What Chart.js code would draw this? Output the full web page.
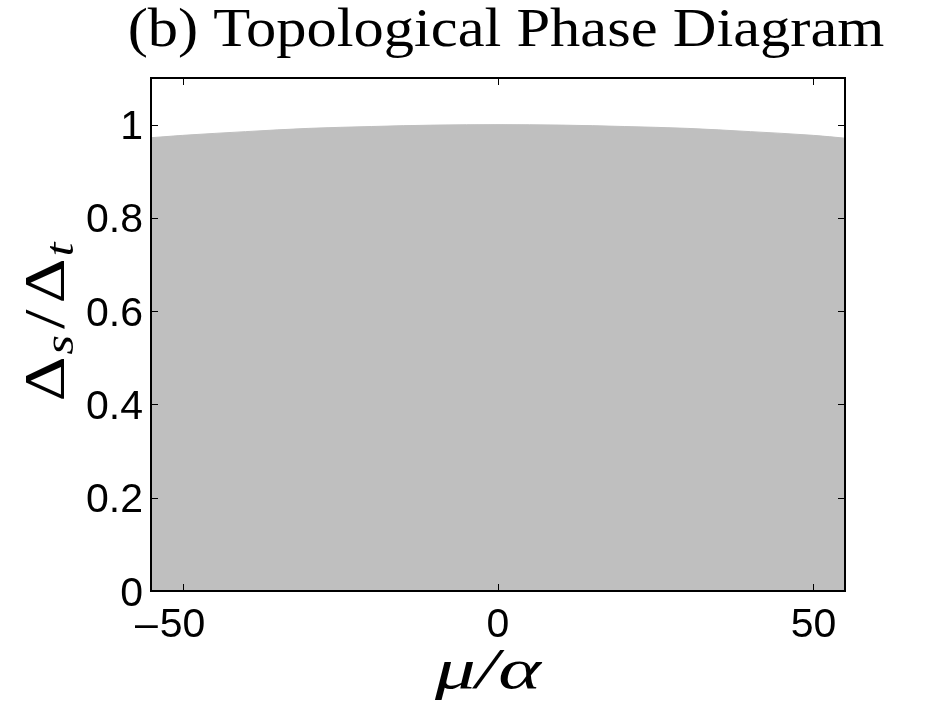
<!DOCTYPE html>
<html lang="en">
<head>
<meta charset="UTF-8">
<title>Topological Phase Diagram</title>
<script src="https://cdn.jsdelivr.net/npm/chart.js"></script>
<style>
  html, body { margin: 0; padding: 0; background: #fff; }
  #wrap { width: 934px; height: 703px; }
</style>
</head>
<body>
<div id="wrap"><canvas id="phaseChart" width="934" height="703"></canvas></div>
<script>
// data
const muValues = [-55, -50, -40, -30, -20, -10, 0, 10, 20, 30, 40, 50, 55];
const ratioValues = [0.972, 0.977, 0.985, 0.992, 0.996, 0.999, 1.0, 0.999, 0.996, 0.992, 0.985, 0.977, 0.971];
const xTicks = [-50, 0, 50];
const yTicks = [0, 0.2, 0.4, 0.6, 0.8, 1];

const titleText = '(b) Topological Phase Diagram';
const tickFont = '41px "Liberation Sans"';

// inward ticks on all four sides, the box, tick labels and titles
const framePlugin = {
  id: 'frame',
  afterDatasetsDraw(chart) {
    const ctx = chart.ctx;
    const a = chart.chartArea;
    const xs = chart.scales.x, ys = chart.scales.y;
    ctx.save();
    ctx.strokeStyle = '#000';
    ctx.lineWidth = 1;
    xTicks.forEach(v => {
      const px = Math.round(xs.getPixelForValue(v)) + 0.5;
      ctx.beginPath();
      ctx.moveTo(px, a.bottom); ctx.lineTo(px, a.bottom - 7);
      ctx.moveTo(px, a.top); ctx.lineTo(px, a.top + 7);
      ctx.stroke();
    });
    yTicks.forEach(v => {
      const py = Math.round(ys.getPixelForValue(v)) + 0.5;
      ctx.beginPath();
      ctx.moveTo(a.left, py); ctx.lineTo(a.left + 7, py);
      ctx.moveTo(a.right, py); ctx.lineTo(a.right - 7, py);
      ctx.stroke();
    });
    ctx.lineWidth = 2;
    ctx.strokeRect(a.left, a.top, a.right - a.left, a.bottom - a.top);

    // tick labels (matlab style: minus hangs left of the centred digits)
    ctx.fillStyle = '#000';
    ctx.font = tickFont;
    ctx.textBaseline = 'alphabetic';
    xTicks.forEach(v => {
      const px = xs.getPixelForValue(v);
      const digits = String(Math.abs(v));
      const w = ctx.measureText(digits).width;
      ctx.textAlign = 'left';
      ctx.fillText(digits, px - w / 2, 637);
      if (v < 0) {
        ctx.textAlign = 'right';
        ctx.fillText('\u2013', px - w / 2 - 2, 637);
      }
    });
    ctx.textAlign = 'right';
    yTicks.forEach(v => {
      const py = ys.getPixelForValue(v);
      ctx.fillText(String(v), 143, py + 14.5);
    });
    ctx.restore();
  },
  afterDraw(chart) {
    const ctx = chart.ctx;
    ctx.save();
    ctx.fillStyle = '#000';

    // title, stretched a little to get the wide computer-modern look
    ctx.font = '54px "Liberation Serif"';
    ctx.textAlign = 'center';
    ctx.textBaseline = 'alphabetic';
    ctx.save();
    ctx.translate(506, 46);
    ctx.scale(1.12, 1);
    ctx.fillText(titleText, 0, 0);
    ctx.restore();

    // x title  mu/alpha
    ctx.save();
    ctx.font = 'italic 58px "Liberation Serif"';
    ctx.translate(488, 688);
    ctx.scale(1.4, 1);
    ctx.fillText('μ/α', 0, 0);
    ctx.restore();

    // y title  Delta_s / Delta_t, rotated
    ctx.translate(64, 322);
    ctx.rotate(-Math.PI / 2);
    const big = '56px "Liberation Serif"';
    const sub = 'italic 40px "Liberation Serif"';
    const parts = [
      { t: 'Δ', f: big, dy: 0, gap: 2 },
      { t: 's', f: sub, dy: 9, gap: 6 },
      { t: '/', f: big, dy: 0, gap: 6 },
      { t: 'Δ', f: big, dy: 0, gap: 2 },
      { t: 't', f: sub, dy: 9, gap: 0 }
    ];
    const sx = 1.25;
    let total = 0;
    parts.forEach(p => { ctx.font = p.f; p.w = ctx.measureText(p.t).width * sx; total += p.w + p.gap; });
    let x = -total / 2;
    ctx.textAlign = 'left';
    parts.forEach(p => {
      ctx.font = p.f;
      ctx.save();
      ctx.translate(x, p.dy);
      ctx.scale(sx, 1);
      ctx.fillText(p.t, 0, 0);
      ctx.restore();
      x += p.w + p.gap;
    });
    ctx.restore();
  }
};

const ctx = document.getElementById('phaseChart').getContext('2d');
new Chart(ctx, {
  type: 'line',
  data: {
    datasets: [{
      data: muValues.map((m, i) => ({ x: m, y: ratioValues[i] })),
      fill: 'origin',
      backgroundColor: 'rgb(191,191,191)',
      borderColor: 'rgb(191,191,191)',
      borderWidth: 1,
      pointRadius: 0,
      cubicInterpolationMode: 'monotone'
    }]
  },
  options: {
    responsive: false,
    animation: false,
    layout: { padding: { top: 78, right: 89, left: 0, bottom: 0 } },
    plugins: {
      legend: { display: false },
      tooltip: { enabled: false }
    },
    scales: {
      x: {
        type: 'linear',
        min: -55,
        max: 55,
        afterBuildTicks(s) { s.ticks = xTicks.map(v => ({ value: v })); },
        afterFit(s) { s.height = 112; },
        grid: { display: false, drawTicks: false },
        border: { display: false },
        ticks: { display: false }
      },
      y: {
        type: 'linear',
        min: 0,
        max: 1.1,
        afterBuildTicks(s) { s.ticks = yTicks.map(v => ({ value: v })); },
        afterFit(s) { s.width = 151; },
        grid: { display: false, drawTicks: false },
        border: { display: false },
        ticks: { display: false }
      }
    }
  },
  plugins: [framePlugin]
});
</script>
</body>
</html>
